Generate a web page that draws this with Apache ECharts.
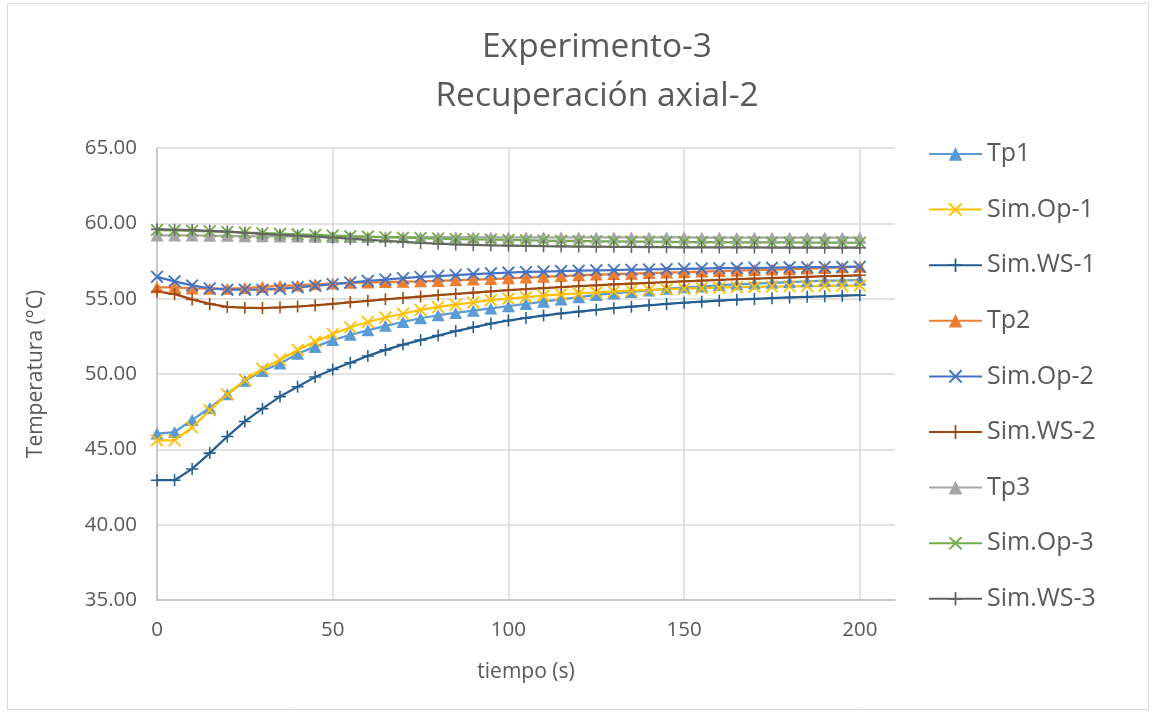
<!DOCTYPE html>
<html>
<head>
<meta charset="utf-8">
<script src="https://cdn.jsdelivr.net/npm/echarts@6/dist/echarts.min.js"></script>
<style>
html,body{margin:0;padding:0;background:#fff;}
#chart{width:1156px;height:717px;}
</style>
</head>
<body>
<div id="chart"></div>
<script>
// ---- data ----
var titleLines = ['Experimento-3', 'Recuperación axial-2'];
var xAxisTitle = 'tiempo (s)';
var yAxisTitle = 'Temperatura (°C)';
var time = [0,5,10,15,20,25,30,35,40,45,50,55,60,65,70,75,80,85,90,95,100,105,110,115,120,125,130,135,140,145,150,155,160,165,170,175,180,185,190,195,200];
var seriesNames = ['Tp1','Sim.Op-1','Sim.WS-1','Tp2','Sim.Op-2','Sim.WS-2','Tp3','Sim.Op-3','Sim.WS-3'];

var tp1 = [46.05,46.15,46.95,47.75,48.65,49.55,50.2,50.7,51.35,51.8,52.25,52.6,52.9,53.2,53.45,53.7,53.9,54.05,54.2,54.35,54.5,54.65,54.8,54.95,55.1,55.25,55.35,55.45,55.55,55.65,55.75,55.8,55.9,55.95,56.0,56.05,56.1,56.15,56.2,56.2,56.25];
var simOp1 = [45.6,45.6,46.45,47.6,48.65,49.6,50.35,50.95,51.6,52.15,52.65,53.1,53.45,53.75,54.0,54.25,54.45,54.6,54.75,54.9,55.0,55.1,55.2,55.28,55.35,55.42,55.48,55.53,55.58,55.62,55.66,55.7,55.73,55.76,55.78,55.8,55.82,55.84,55.85,55.86,55.87];
var simWS1 = [42.95,42.95,43.7,44.75,45.85,46.85,47.7,48.5,49.15,49.8,50.3,50.75,51.2,51.6,51.95,52.25,52.55,52.85,53.1,53.35,53.55,53.72,53.88,54.02,54.14,54.26,54.37,54.47,54.56,54.65,54.73,54.8,54.87,54.93,54.98,55.03,55.08,55.12,55.16,55.2,55.23];
var tp2 = [55.75,55.75,55.68,55.66,55.66,55.7,55.78,55.85,55.88,55.95,56.0,56.05,56.08,56.1,56.13,56.15,56.18,56.22,56.27,56.3,56.35,56.4,56.45,56.5,56.55,56.6,56.63,56.66,56.7,56.73,56.76,56.8,56.83,56.86,56.9,56.93,56.96,57.0,57.04,57.08,57.12];
var simOp2 = [56.45,56.15,55.88,55.68,55.6,55.6,55.6,55.65,55.75,55.85,55.96,56.07,56.18,56.27,56.36,56.44,56.5,56.57,56.63,56.68,56.73,56.77,56.8,56.83,56.86,56.88,56.9,56.92,56.94,56.96,56.98,57.0,57.02,57.03,57.05,57.06,57.08,57.09,57.1,57.11,57.12];
var simWS2 = [55.48,55.3,54.95,54.65,54.45,54.4,54.38,54.42,54.48,54.56,54.66,54.76,54.86,54.96,55.05,55.14,55.23,55.32,55.4,55.48,55.56,55.63,55.7,55.77,55.83,55.89,55.95,56.0,56.05,56.1,56.15,56.2,56.25,56.29,56.33,56.37,56.41,56.45,56.49,56.52,56.55];
var tp3 = [59.2,59.2,59.2,59.18,59.17,59.15,59.14,59.13,59.12,59.11,59.1,59.1,59.09,59.09,59.09,59.08,59.08,59.08,59.08,59.07,59.07,59.07,59.07,59.07,59.06,59.06,59.06,59.06,59.06,59.06,59.06,59.05,59.05,59.05,59.05,59.05,59.05,59.05,59.05,59.05,59.05];
var simOp3 = [59.55,59.53,59.5,59.47,59.43,59.39,59.35,59.31,59.27,59.23,59.19,59.15,59.12,59.08,59.05,59.02,58.99,58.96,58.94,58.92,58.9,58.88,58.86,58.84,58.83,58.81,58.8,58.79,58.78,58.77,58.76,58.75,58.75,58.74,58.74,58.73,58.73,58.72,58.72,58.72,58.71];
var simWS3 = [59.6,59.58,59.55,59.5,59.45,59.38,59.3,59.24,59.18,59.12,59.05,58.98,58.9,58.83,58.77,58.7,58.65,58.6,58.57,58.54,58.52,58.5,58.48,58.47,58.46,58.45,58.44,58.43,58.42,58.42,58.41,58.41,58.4,58.4,58.4,58.39,58.39,58.39,58.38,58.38,58.38];
var xTickLabels = [0,50,100,150,200];

// ---- styling ----
var colors = ['#5B9BD5','#FFC000','#255E91','#ED7D31','#4472C4','#9E480E','#A5A5A5','#70AD47','#636363'];
var SYM_TRI = 'triangle';
var SYM_X = 'path://M0,2L2,0L10,8L18,0L20,2L12,10L20,18L18,20L10,12L2,20L0,18L8,10Z';
var SYM_PLUS = 'path://M8.7,0H11.3V8.7H20V11.3H11.3V20H8.7V11.3H0V8.7H8.7Z';
var symbols = [SYM_TRI, SYM_X, SYM_PLUS, SYM_TRI, SYM_X, SYM_PLUS, SYM_TRI, SYM_X, SYM_PLUS];
var symSizes = [[13,12],13,12,[13,12],13,12,[13,12],13,12];
var values = [tp1, simOp1, simWS1, tp2, simOp2, simWS2, tp3, simOp3, simWS3];

var FONT = '"Open Sans", "DejaVu Sans", sans-serif';
var TXT = '#595959';

var series = seriesNames.map(function(name, i){
  return {
    name: name,
    type: 'line',
    data: time.map(function(t, k){ return [t, values[i][k]]; }),
    symbol: symbols[i],
    symbolSize: symSizes[i],
    showAllSymbol: true,
    lineStyle: {color: colors[i], width: 2.25},
    itemStyle: {color: colors[i], borderWidth: 0},
    emphasis: {disabled: true},
    animation: false
  };
});

var chart = echarts.init(document.getElementById('chart'), null, {renderer: 'canvas'});
chart.setOption({
  backgroundColor: '#fff',
  animation: false,
  color: colors,
  title: {
    text: titleLines.join('\n'),
    left: 592, top: 18, textAlign: 'center',
    textStyle: {fontFamily: FONT, fontWeight: 'normal', fontSize: 33.5, color: TXT, lineHeight: 49}
  },
  graphic: [{
    type: 'rect', shape: {x: 7.5, y: 3.5, width: 1141, height: 706},
    style: {fill: 'none', stroke: '#d9d9d9', lineWidth: 1}, silent: true, z: -1
  }],
  legend: {
    orient: 'vertical', left: 923, top: 134,
    itemWidth: 53, itemHeight: 17, itemGap: 25.6,
    textStyle: {fontFamily: FONT, fontSize: 25, color: TXT, lineHeight: 30},
    data: seriesNames
  },
  grid: {left: 157, right: 261, top: 148, bottom: 117, containLabel: false},
  xAxis: {
    type: 'value', min: 0, max: 210, interval: 50,
    name: xAxisTitle, nameLocation: 'middle', nameGap: 62,
    nameTextStyle: {fontFamily: FONT, fontSize: 21, color: TXT},
    axisLine: {lineStyle: {color: '#bfbfbf', width: 1.5}},
    axisTick: {show: false},
    axisLabel: {fontFamily: FONT, fontSize: 20.5, color: TXT, margin: 20,
      formatter: function(v){ return xTickLabels.indexOf(v) >= 0 ? String(v) : ''; }},
    splitLine: {lineStyle: {color: ['#d9d9d9','#d9d9d9','#d9d9d9','#d9d9d9','#d9d9d9','rgba(0,0,0,0)'], width: 1.5}}
  },
  yAxis: {
    type: 'value', min: 35, max: 65, interval: 5,
    name: yAxisTitle, nameLocation: 'middle', nameGap: 110,
    nameTextStyle: {fontFamily: FONT, fontSize: 21, color: TXT},
    axisLine: {show: true, lineStyle: {color: '#bfbfbf', width: 1.5}},
    axisTick: {show: false},
    axisLabel: {fontFamily: FONT, fontSize: 20.5, color: TXT, margin: 20,
      formatter: function(v){ return v.toFixed(2); }},
    splitLine: {lineStyle: {color: '#d9d9d9', width: 1.5}}
  },
  series: series
});
</script>
</body>
</html>
